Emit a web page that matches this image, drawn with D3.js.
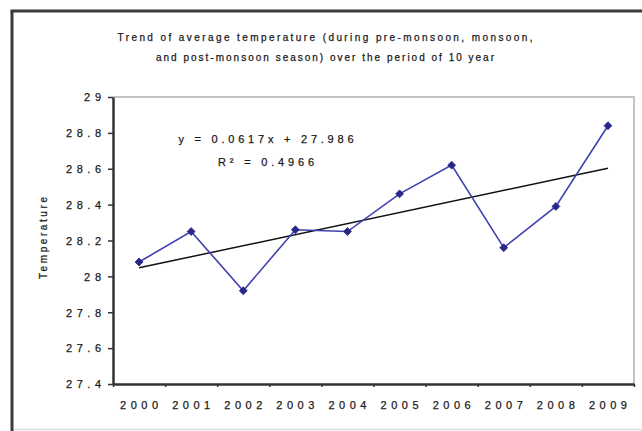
<!DOCTYPE html>
<html>
<head>
<meta charset="utf-8">
<script src="https://cdn.jsdelivr.net/npm/d3@7"></script>
<style>
  html, body { margin: 0; padding: 0; background: #fff; }
  svg { display: block; }
  text { font-family: "Liberation Sans", Arial, sans-serif; fill: #1a1a1a; stroke: #1a1a1a; stroke-width: 0.25px; }
</style>
</head>
<body>
<svg id="chart" width="642" height="431"></svg>
<script>
// ---- data ----
const years = ["2000","2001","2002","2003","2004","2005","2006","2007","2008","2009"];
const temperature = [28.08, 28.25, 27.92, 28.26, 28.25, 28.46, 28.62, 28.16, 28.39, 28.84];
const yTicks = [27.4, 27.6, 27.8, 28.0, 28.2, 28.4, 28.6, 28.8, 29.0];
const trendCoef = [0.0617, 27.986];   // slope, intercept (x = 1..10)
const titleLines = ["Trend of average  temperature (during pre-monsoon, monsoon,",
                    "and post-monsoon season) over the period of 10 year"];
const equationLines = ["y = 0.0617x + 27.986", "R² = 0.4966"];
const yTitle = "Temperature";

// ---- layout ----
const svg = d3.select("#chart");
const plot = {left: 113, right: 634, top: 97, bottom: 384};

// outer chart border
svg.append("line").attr("x1", 12).attr("y1", 11).attr("x2", 12).attr("y2", 431)
  .attr("stroke", "#3a3a3a").attr("stroke-width", 3);
svg.append("line").attr("x1", 10.5).attr("y1", 11).attr("x2", 642).attr("y2", 11)
  .attr("stroke", "#3a3a3a").attr("stroke-width", 3);
svg.append("line").attr("x1", 14).attr("y1", 429.5).attr("x2", 642).attr("y2", 429.5)
  .attr("stroke", "#dcdcdc").attr("stroke-width", 1.5);

// title
const title = svg.append("g");
title.selectAll("text").data(titleLines).join("text")
  .attr("x", 325).attr("y", (d, i) => 41 + i * 20)
  .attr("text-anchor", "middle")
  .attr("font-size", 10)
  .attr("textLength", (d, i) => i === 0 ? 415 : 338)
  .attr("lengthAdjust", "spacing")
  .text(d => d);

// scales
const x = d3.scaleBand().domain(years).range([plot.left, plot.right]);
const xEdge = d3.scaleLinear().domain([0, years.length]).range([plot.left, plot.right]);
const y = d3.scaleLinear().domain([27.4, 29]).range([plot.bottom, plot.top]);
const cx = d => x(d) + x.bandwidth() / 2;

// plot border (top & right light gray)
svg.append("path")
  .attr("d", `M${plot.left},${plot.top}H${plot.right}V${plot.bottom}`)
  .attr("fill", "none").attr("stroke", "#c4c4c4").attr("stroke-width", 2);

// y axis
const yAxis = svg.append("g").attr("transform", `translate(${plot.left},0)`)
  .call(d3.axisLeft(y).tickValues(yTicks).tickSize(5).tickSizeOuter(0)
    .tickFormat(d => d3.format("")(+d.toFixed(1))));
yAxis.select(".domain").attr("stroke", "#333").attr("stroke-width", 2.5);
yAxis.selectAll(".tick line").attr("stroke", "#333").attr("stroke-width", 1.5);
yAxis.selectAll(".tick text")
  .attr("font-size", 11).attr("x", -12)
  .attr("dy", "0.35em")
  .attr("textLength", function() { return this.textContent.length > 2 ? 35 : 17; })
  .attr("lengthAdjust", "spacing");

// x axis: boundary ticks
const xTickAxis = svg.append("g").attr("transform", `translate(0,${plot.bottom})`)
  .call(d3.axisBottom(xEdge).ticks(years.length).tickSize(3).tickSizeOuter(0).tickFormat(""));
xTickAxis.select(".domain").attr("stroke", "#333").attr("stroke-width", 2.5);
xTickAxis.selectAll(".tick line").attr("stroke", "#333").attr("stroke-width", 1.5);

// x axis labels
const xLabelAxis = svg.append("g").attr("transform", `translate(0,${plot.bottom})`)
  .call(d3.axisBottom(x).tickSize(0).tickPadding(17));
xLabelAxis.select(".domain").remove();
xLabelAxis.selectAll(".tick text")
  .attr("font-size", 11)
  .attr("textLength", 38).attr("lengthAdjust", "spacing");

// y axis title
svg.append("text")
  .attr("transform", `translate(47,238) rotate(-90)`)
  .attr("text-anchor", "middle").attr("font-size", 10)
  .attr("textLength", 82).attr("lengthAdjust", "spacing")
  .text(yTitle);

// trend line
const trendPts = [1, years.length].map(i => [cx(years[i - 1]), y(trendCoef[0] * i + trendCoef[1])]);
svg.append("path").attr("d", d3.line()(trendPts))
  .attr("fill", "none").attr("stroke", "#111").attr("stroke-width", 1.5);

// data line
const pts = years.map((d, i) => [cx(d), y(temperature[i])]);
svg.append("path").attr("d", d3.line()(pts))
  .attr("fill", "none").attr("stroke", "#4040b0").attr("stroke-width", 1.6);

// markers (diamonds)
svg.append("g").selectAll("path").data(pts).join("path")
  .attr("transform", d => `translate(${d[0]},${d[1]})`)
  .attr("d", d3.symbol().type(d3.symbolDiamond2).size(40))
  .attr("fill", "#27278a").attr("stroke", "#27278a").attr("stroke-width", 0.8);

// equation text
svg.append("g").selectAll("text").data(equationLines).join("text")
  .attr("x", 266).attr("y", (d, i) => 143 + i * 23)
  .attr("text-anchor", "middle")
  .attr("font-size", 11)
  .attr("textLength", (d, i) => i === 0 ? 175 : 96)
  .attr("lengthAdjust", "spacing")
  .text(d => d);
</script>
</body>
</html>
